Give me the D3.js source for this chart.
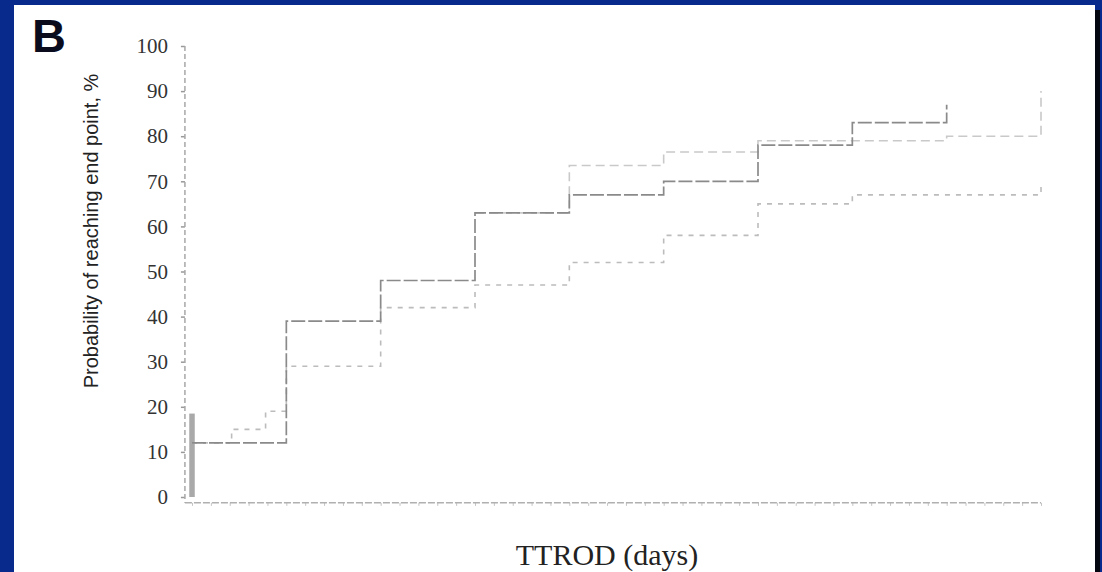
<!DOCTYPE html>
<html>
<head>
<meta charset="utf-8">
<script src="https://cdn.jsdelivr.net/npm/d3@7"></script>
<style>
  html, body { margin: 0; padding: 0; background: #082a8c; }
  svg { display: block; }
</style>
</head>
<body>
<svg id="chart" width="1102" height="572"></svg>
<script>
// ---- data ----
const timesA = [0, 1, 2, 3, 4, 5, 6, 7, 8];
const probA  = [12, 39, 48, 63, 67, 70, 78, 83, 87];

const timesB = [0, 0.42, 0.78, 1, 2, 3, 4, 5, 6, 7, 9];
const probB  = [12, 15, 19, 29, 42, 47, 52, 58, 65, 67, 69];

const timesC = [3, 4, 5, 6, 8, 9];
const probC  = [63, 73.5, 76.5, 79, 80, 90];

const initialBar = [0, 18.5];
const yTicks = [0, 10, 20, 30, 40, 50, 60, 70, 80, 90, 100];
const panelLabel = "B";
const yTitle = "Probability of reaching end point, %";
const xTitle = "TTROD (days)";

// ---- drawing ----
const svg = d3.select("#chart");

// white panel
svg.append("rect").attr("x", 14).attr("y", 5).attr("width", 1081).attr("height", 567).attr("fill", "#ffffff");
svg.append("rect").attr("x", 1095).attr("y", 10).attr("width", 5).attr("height", 562).attr("fill", "#03050f");

const x = d3.scaleLinear().domain([0, 9]).range([192, 1041]);
const y = d3.scaleLinear().domain([0, 100]).range([497, 46]);

// x axis (no labels)
const xAxisY = y(-1.3);
const xAxis = d3.axisBottom(x)
  .tickValues(d3.range(0, 9.001, 0.2))
  .tickSize(3)
  .tickFormat("");
const gx = svg.append("g").attr("transform", `translate(0,${xAxisY})`).call(xAxis);
gx.select(".domain").remove();
gx.selectAll(".tick line").attr("stroke", "#c4c4c4");
gx.append("line")
  .attr("x1", x(-0.075)).attr("x2", x(9))
  .attr("stroke", "#b0b0b0").attr("stroke-width", 1.5)
  .attr("stroke-dasharray", "7,2");

// y axis
const yAxis = d3.axisLeft(y).tickValues(yTicks).tickSize(4).tickPadding(13);
const gy = svg.append("g").attr("transform", `translate(${x(-0.075)},0)`).call(yAxis);
gy.select(".domain").remove();
gy.append("line")
  .attr("y1", y(100)).attr("y2", xAxisY)
  .attr("stroke", "#a8a8a8").attr("stroke-width", 1.5)
  .attr("stroke-dasharray", "5,3");
gy.selectAll(".tick line").attr("stroke", "#999").attr("stroke-width", 1.5);
gy.selectAll(".tick text")
  .attr("font-family", "'Liberation Serif', 'Times New Roman', serif")
  .attr("font-size", 21)
  .attr("fill", "#333");

// initial vertical bar
svg.append("line")
  .attr("x1", x(0)).attr("x2", x(0))
  .attr("y1", y(initialBar[0])).attr("y2", y(initialBar[1]))
  .attr("stroke", "#a9a9a9").attr("stroke-width", 5.5);

const line = d3.line()
  .x(d => x(d[0]))
  .y(d => y(d[1]))
  .curve(d3.curveStepAfter);

const zip = (t, p) => t.map((v, i) => [v, p[i]]);

svg.append("path").datum(zip(timesC, probC))
  .attr("d", line).attr("fill", "none")
  .attr("stroke", "#c9c9c9").attr("stroke-width", 1.6)
  .attr("stroke-dasharray", "9,5");

svg.append("path").datum(zip(timesB, probB))
  .attr("d", line).attr("fill", "none")
  .attr("stroke", "#bcbcbc").attr("stroke-width", 1.6)
  .attr("stroke-dasharray", "5,6");

svg.append("path").datum(zip(timesA, probA))
  .attr("d", line).attr("fill", "none")
  .attr("stroke", "#8a8a8a").attr("stroke-width", 1.7)
  .attr("stroke-dasharray", "14,3");

// titles
svg.append("text")
  .attr("transform", `translate(91,231) rotate(-90)`)
  .attr("text-anchor", "middle")
  .attr("dominant-baseline", "central")
  .attr("font-family", "'Liberation Sans', Arial, sans-serif")
  .attr("font-size", 20)
  .attr("fill", "#222")
  .text(yTitle);

svg.append("text")
  .attr("x", 607).attr("y", 565)
  .attr("text-anchor", "middle")
  .attr("font-family", "'Liberation Serif', 'Times New Roman', serif")
  .attr("font-size", 30)
  .attr("fill", "#222")
  .text(xTitle);

svg.append("text")
  .attr("x", 32).attr("y", 52)
  .attr("font-family", "'Liberation Sans', Arial, sans-serif")
  .attr("font-weight", "bold")
  .attr("font-size", 47)
  .attr("fill", "#0b0b1e")
  .text(panelLabel);
</script>
</body>
</html>
